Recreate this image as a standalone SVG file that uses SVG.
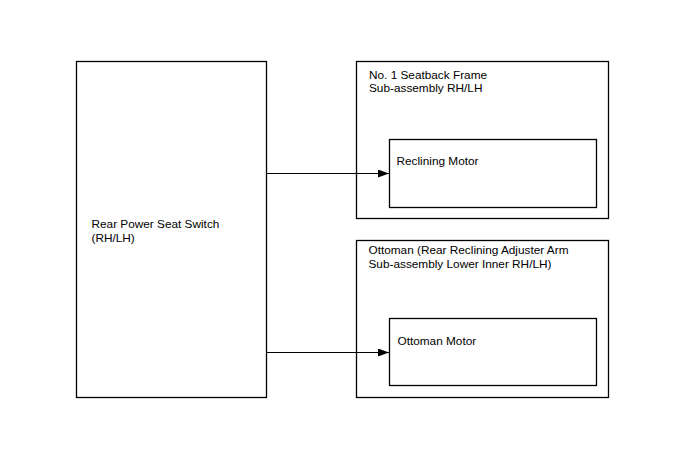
<svg xmlns="http://www.w3.org/2000/svg" width="688" height="463" viewBox="0 0 688 463">
<style>
.box{fill:#fff;stroke:#000;stroke-width:1.3}
.lbl{font-family:"Liberation Sans",Arial,sans-serif;font-size:11.8px;fill:#000}
.con{stroke:#000;stroke-width:1;fill:none}
</style>
<defs>
<marker id="arr" markerWidth="12" markerHeight="8" refX="11" refY="4" orient="auto" markerUnits="userSpaceOnUse">
<path d="M0,0 L11,4 L0,8 Z" fill="#000"/>
</marker>
</defs>
<rect width="688" height="463" fill="#fff"/>
<g id="switch">
<rect class="box" x="76.5" y="61.5" width="190" height="336"/>
<text class="lbl" x="91.5" y="227.5">Rear Power Seat Switch</text>
<text class="lbl" x="91.5" y="241.5">(RH/LH)</text>
</g>
<g id="seatback">
<rect class="box" x="356.5" y="61.5" width="252" height="157"/>
<text class="lbl" x="369" y="79">No. 1 Seatback Frame</text>
<text class="lbl" x="369" y="92">Sub-assembly RH/LH</text>
</g>
<g id="reclining-motor">
<rect class="box" x="389.5" y="139.5" width="207" height="68"/>
<text class="lbl" x="396.5" y="165">Reclining Motor</text>
</g>
<g id="ottoman">
<rect class="box" x="356.5" y="240.5" width="252" height="157"/>
<text class="lbl" x="368.5" y="254">Ottoman (Rear Reclining Adjuster Arm</text>
<text class="lbl" x="368.5" y="267.5">Sub-assembly Lower Inner RH/LH)</text>
</g>
<g id="ottoman-motor">
<rect class="box" x="389.5" y="318.5" width="207" height="67"/>
<text class="lbl" x="397.5" y="345">Ottoman Motor</text>
</g>
<g id="connectors">
<line class="con" x1="267" y1="173.5" x2="389" y2="173.5" marker-end="url(#arr)"/>
<line class="con" x1="267" y1="352.5" x2="389" y2="352.5" marker-end="url(#arr)"/>
</g>
</svg>
